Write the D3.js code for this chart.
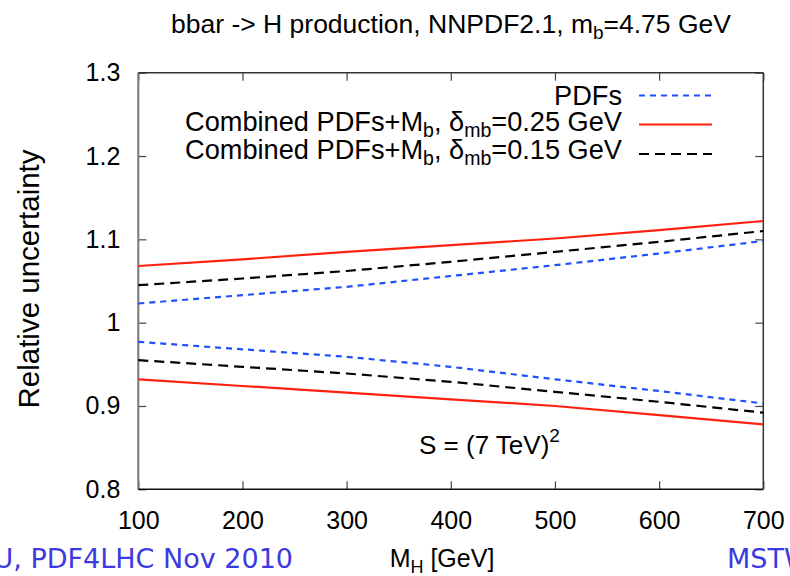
<!DOCTYPE html>
<html><head><meta charset="utf-8">
<script src="https://cdn.jsdelivr.net/npm/d3@7"></script>
<style>body{margin:0;background:#fff}svg{display:block}text{font-family:"Liberation Sans",Arial,sans-serif}</style>
</head><body><svg id="c" width="790" height="576"></svg>
<script>
const mass = [100, 200, 300, 400, 500, 600, 700];
const pdfUp = [1.023, 1.033, 1.043, 1.056, 1.069, 1.083, 1.098];
const pdfDown = [0.977, 0.968, 0.959, 0.947, 0.932, 0.918, 0.903];
const comb25Up = [1.068, 1.076, 1.085, 1.093, 1.101, 1.111, 1.122];
const comb25Down = [0.932, 0.924, 0.916, 0.908, 0.900, 0.889, 0.878];
const comb15Up = [1.045, 1.053, 1.062, 1.073, 1.085, 1.097, 1.110];
const comb15Down = [0.955, 0.947, 0.939, 0.929, 0.917, 0.905, 0.892];
const xTicks = [100, 200, 300, 400, 500, 600, 700];
const yTicks = [0.8, 0.9, 1.0, 1.1, 1.2, 1.3];

const svg = d3.select("#c");
const L = 138.3, R = 763.3, T = 72.7, B = 489.3;
const x = d3.scaleLinear().domain([100, 700]).range([L, R]);
const y = d3.scaleLinear().domain([0.8, 1.3]).range([B, T]);

const blue = "#1f4fff", red = "#ff2010", black = "#000";
const styles = {
  pdf: {color: blue, dash: "6,5"},
  c25: {color: red, dash: null},
  c15: {color: black, dash: "10,6"}
};

// axes
const fmtY = d => d === 1 ? "1" : d3.format(".1f")(d);
const gL = svg.append("g").attr("transform", `translate(${L},0)`)
  .call(d3.axisLeft(y).tickValues(yTicks).tickSizeInner(-8).tickSizeOuter(0).tickPadding(18).tickFormat(fmtY));
const gR = svg.append("g").attr("transform", `translate(${R},0)`)
  .call(d3.axisRight(y).tickValues(yTicks).tickSizeInner(-8).tickSizeOuter(0).tickFormat(""));
const gB = svg.append("g").attr("transform", `translate(0,${B})`)
  .call(d3.axisBottom(x).tickValues(xTicks).tickSizeInner(-8).tickSizeOuter(0).tickPadding(22).tickFormat(d3.format("d")));
const gT = svg.append("g").attr("transform", `translate(0,${T})`)
  .call(d3.axisTop(x).tickValues(xTicks).tickSizeInner(-8).tickSizeOuter(0).tickFormat(""));
[gL, gR, gB, gT].forEach(g => {
  g.select(".domain").remove();
  g.selectAll(".tick line").attr("stroke", "#444").attr("stroke-width", 1.2);
  g.selectAll("text").attr("font-size", 25).attr("fill", "#000").attr("font-family", "Liberation Sans, Arial, sans-serif");
});

// frame
svg.append("line").attr("x1", L).attr("x2", L).attr("y1", T).attr("y2", B).attr("stroke", "#777").attr("stroke-width", 2);
svg.append("line").attr("x1", L).attr("x2", R).attr("y1", B).attr("y2", B).attr("stroke", "#111").attr("stroke-width", 1.5);
svg.append("line").attr("x1", L).attr("x2", R).attr("y1", T).attr("y2", T).attr("stroke", "#333").attr("stroke-width", 1.5);
svg.append("line").attr("x1", R).attr("x2", R).attr("y1", T).attr("y2", B).attr("stroke", "#333").attr("stroke-width", 1.5);

// curves
const line = d3.line().x((d, i) => x(mass[i])).y(d => y(d));
const series = [
  [comb25Up, "c25"], [comb25Down, "c25"],
  [comb15Up, "c15"], [comb15Down, "c15"],
  [pdfUp, "pdf"], [pdfDown, "pdf"]
];
series.forEach(([vals, k]) => {
  svg.append("path").attr("d", line(vals)).attr("fill", "none")
    .attr("stroke", styles[k].color).attr("stroke-width", 2.2)
    .attr("stroke-dasharray", styles[k].dash);
});

// legend
const legend = [
  {k: "pdf", parts: [["PDFs", 0]], base: 104.5, ly: 95.5},
  {k: "c25", parts: [["Combined PDFs+M", 0], ["b", 1], [", δ", 0], ["mb", 1], ["=0.25 GeV", 0]], base: 131, ly: 124.5},
  {k: "c15", parts: [["Combined PDFs+M", 0], ["b", 1], [", δ", 0], ["mb", 1], ["=0.15 GeV", 0]], base: 159, ly: 154}
];
legend.forEach(l => {
  const t = svg.append("text").attr("x", 622).attr("y", l.base).attr("text-anchor", "end").attr("font-size", 27.2);
  let sub = 0;
  l.parts.forEach(([s, isSub]) => {
    const ts = t.append("tspan").text(s);
    if (isSub !== sub) { ts.attr("dy", isSub ? 6 : -6); sub = isSub; }
    if (isSub) ts.attr("font-size", 19.5);
  });
  svg.append("line").attr("x1", 639).attr("x2", 712).attr("y1", l.ly).attr("y2", l.ly)
    .attr("stroke", styles[l.k].color).attr("stroke-width", 2.2).attr("stroke-dasharray", styles[l.k].dash);
});

// title
const title = svg.append("text").attr("x", 451).attr("y", 33).attr("text-anchor", "middle").attr("font-size", 26.5);
title.append("tspan").text("bbar -> H production, NNPDF2.1, m");
title.append("tspan").text("b").attr("dy", 6).attr("font-size", 19);
title.append("tspan").text("=4.75 GeV").attr("dy", -6);

// annotation
const ann = svg.append("text").attr("x", 419).attr("y", 454).attr("font-size", 26);
ann.append("tspan").text("S = (7 TeV)");
ann.append("tspan").text("2").attr("dy", -12).attr("font-size", 19);

// axis labels
svg.append("text").attr("transform", "translate(39,279) rotate(-90)").attr("text-anchor", "middle")
  .attr("font-size", 29.5).text("Relative uncertainty");
const xl = svg.append("text").attr("x", 442).attr("y", 567).attr("text-anchor", "middle").attr("font-size", 25);
xl.append("tspan").text("M");
xl.append("tspan").text("H").attr("dy", 6).attr("font-size", 18);
xl.append("tspan").text(" [GeV]").attr("dy", -6);

// footer
svg.append("text").attr("x", 293).attr("y", 568).attr("text-anchor", "end").attr("font-size", 27)
  .attr("fill", "#3a3ae0").style("font-family", "DejaVu Sans").text("U, PDF4LHC Nov 2010");
svg.append("text").attr("x", 727).attr("y", 568).attr("font-size", 27)
  .attr("fill", "#3a3ae0").style("font-family", "DejaVu Sans").text("MSTW");
</script></body></html>
